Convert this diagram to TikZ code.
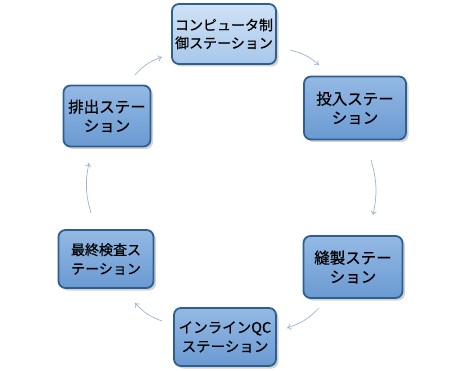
\documentclass[tikz,border=0pt]{standalone}
\usepackage{fontspec}
\newfontfamily\jp[FakeBold=0.6]{Noto Sans CJK JP}
\usetikzlibrary{arrows.meta,shadows}
\definecolor{edgeblue}{HTML}{2F5E93}
\definecolor{lightA}{HTML}{CFE2F6}
\definecolor{lightB}{HTML}{A8C7EA}
\definecolor{midA}{HTML}{94B9E4}
\definecolor{midB}{HTML}{6A9AD2}
\definecolor{arrowc}{HTML}{9DB3CC}
\begin{document}
\begin{tikzpicture}[x=1pt,y=-1pt,
  station/.style={rounded corners=7pt, draw=edgeblue, line width=1.8pt,
    top color=midA, bottom color=midB, align=center, inner sep=0pt,
    font=\jp\fontsize{15.5}{19}\selectfont, text=black,
    drop shadow={shadow xshift=2.5pt, shadow yshift=-2.5pt, opacity=0.35}},
  lightstation/.style={station, top color=lightA, bottom color=lightB},
  flow/.style={draw=arrowc, line width=0.7pt, -{To[length=4pt,width=6pt]}, bend left=14}]
\useasboundingbox (0,0) rectangle (449,371);
\node[lightstation, minimum width=104pt, minimum height=60pt, font=\jp\fontsize{14}{18}\selectfont] (ctrl) at (224,34) {コンピュータ制\\御ステーション};
\node[station, minimum width=102pt, minimum height=63pt] (input) at (355,108) {投入ステー\\ション};
\node[station, minimum width=99pt, minimum height=62pt] (sew) at (353,267) {縫製ステー\\ション};
\node[station, minimum width=102pt, minimum height=58pt, font=\jp\fontsize{14.5}{19}\selectfont] (qc) at (225,337) {インラインQC\\ステーション};
\node[station, minimum width=95pt, minimum height=58pt, font=\jp\fontsize{14}{19}\selectfont] (final) at (106,259) {最終検査ス\\テーション};
\node[station, minimum width=87pt, minimum height=61pt] (out) at (107,116) {排出ステー\\ション};
\coordinate (a1) at (290,50); \coordinate (b1) at (319,65);
\coordinate (a2) at (371,160); \coordinate (b2) at (373,215);
\coordinate (a3) at (319,308); \coordinate (b3) at (287,328);
\coordinate (a4) at (162,321); \coordinate (b4) at (135,303);
\coordinate (a5) at (91,213); \coordinate (b5) at (89,163);
\coordinate (a6) at (135,75); \coordinate (b6) at (162,57);
\draw[flow] (a1) to (b1);
\draw[flow] (a2) to (b2);
\draw[flow] (a3) to (b3);
\draw[flow] (a4) to (b4);
\draw[flow] (a5) to (b5);
\draw[flow] (a6) to (b6);
\end{tikzpicture}
\end{document}
